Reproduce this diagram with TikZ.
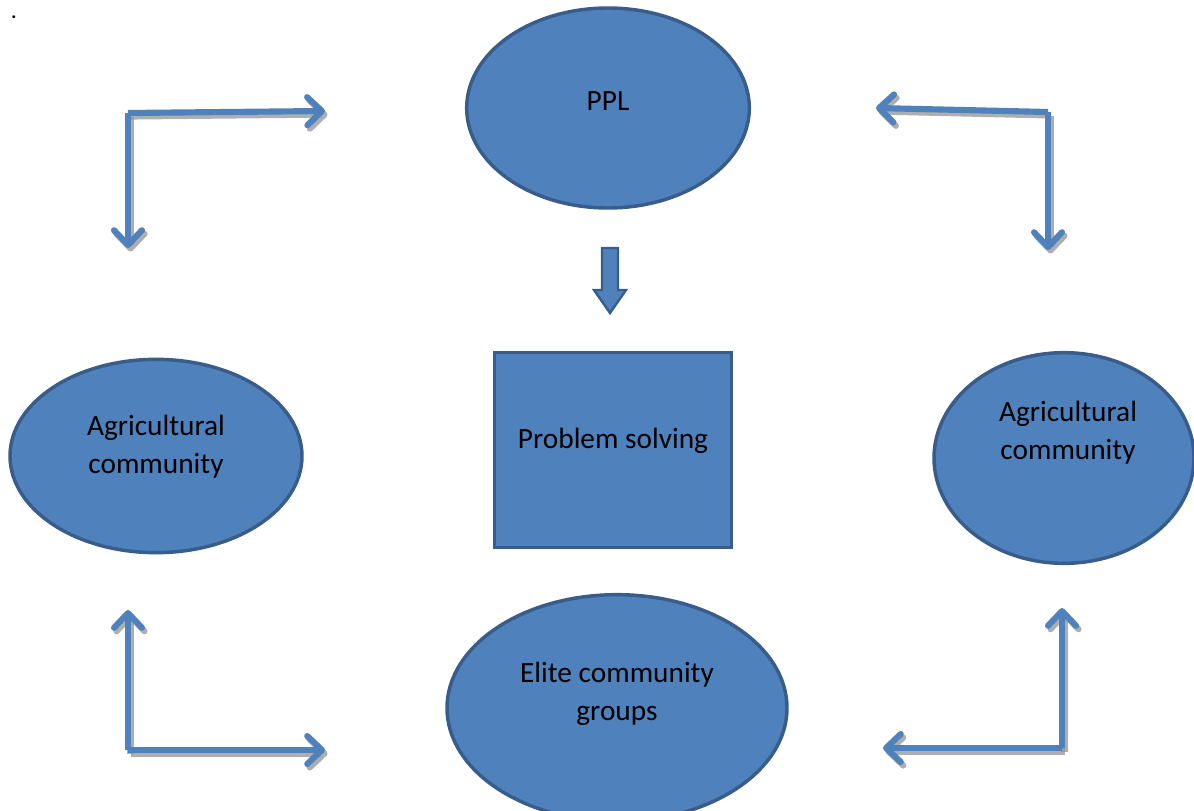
\documentclass[tikz,border=0pt]{standalone}
\usepackage{fontspec}
\setmainfont{Carlito}
\usetikzlibrary{arrows.meta,shapes.geometric}
\definecolor{fillblue}{HTML}{4F81BD}
\definecolor{edgeblue}{HTML}{385D8A}
\tikzset{
  shape box/.style={draw=edgeblue, fill=fillblue, line width=2.6pt, inner sep=0pt},
  elli/.style={shape box, ellipse},
  lbl/.style={font=\fontsize{22}{28.5}\selectfont, align=center, text=black},
  conn/.style={draw=fillblue, line width=4.6pt, line join=miter,
    -{Straight Barb[round, length=11pt, width=21pt, line width=4.6pt]}},
  connshadow/.style={draw=gray!85, opacity=0.75, line width=4.6pt,
    -{Straight Barb[round, length=11pt, width=21pt, line width=4.6pt]}},
  blockarrow/.style={draw=edgeblue, fill=fillblue, line width=1.8pt, line join=miter}
}
\begin{document}
\begin{tikzpicture}[x=0.75pt, y=-0.75pt]
\useasboundingbox (0,0) rectangle (1194,810);
\node[font=\fontsize{18}{20}\selectfont] (dot) at (14,17) {.};
% nodes
\node[elli, minimum width=212pt, minimum height=150pt] (ppl) at (608,108) {};
\node[lbl] (pplt) at (608,101) {PPL};
\node[shape box, rectangle, minimum width=178pt, minimum height=146pt] (ps) at (613,450) {};
\node[lbl] (pst) at (613,441) {Problem solving};
\node[elli, minimum width=219pt, minimum height=145pt] (agl) at (156,456) {};
\node[lbl] (aglt) at (156,447) {Agricultural\\community};
\node[elli, minimum width=195pt, minimum height=158pt] (agr) at (1064,458) {};
\node[lbl] (agrt) at (1068,433) {Agricultural\\community};
\node[elli, minimum width=255pt, minimum height=170pt] (elite) at (617,708) {};
\node[lbl] (elitet) at (617,694) {Elite community\\groups};
% block arrow between PPL and Problem solving
\draw[blockarrow] (602,248) -- (618,248) -- (618,290) -- (626,290) -- (610,313) -- (594,290) -- (602,290) -- cycle;
% elbow arrows: coordinates
\coordinate (c1) at (128,113); \coordinate (e1a) at (325,111); \coordinate (e1b) at (128,248);
\coordinate (c2) at (1048,112); \coordinate (e2a) at (876,108); \coordinate (e2b) at (1048,250);
\coordinate (c3) at (128,750); \coordinate (e3a) at (128,610); \coordinate (e3b) at (325,750);
\coordinate (c4) at (1062,748); \coordinate (e4a) at (1062,608); \coordinate (e4b) at (883,748);
% shadows
\foreach \c/\a in {c1/e1a,c1/e1b,c2/e2a,c2/e2b,c3/e3a,c3/e3b,c4/e4a,c4/e4b}
  \draw[connshadow] ([shift={(2.5,3.5)}]\c) -- ([shift={(2.5,3.5)}]\a);
% arrows
\foreach \c/\a in {c1/e1a,c1/e1b,c2/e2a,c2/e2b,c3/e3a,c3/e3b,c4/e4a,c4/e4b}
  \draw[conn] (\c) -- (\a);
\end{tikzpicture}
\end{document}
